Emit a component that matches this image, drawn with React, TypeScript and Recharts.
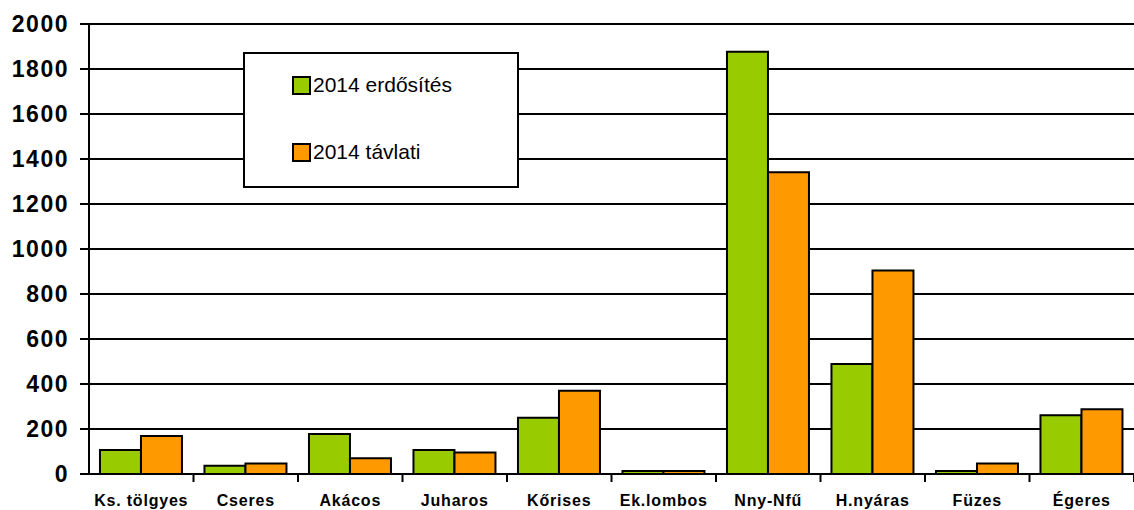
import { BarChart, Bar, XAxis, YAxis, CartesianGrid } from 'recharts'

const categories = ['Ks. tölgyes', 'Cseres', 'Akácos', 'Juharos', 'Kőrises', 'Ek.lombos', 'Nny-Nfű', 'H.nyáras', 'Füzes', 'Égeres']
const erdosites = [107, 37, 178, 107, 250, 13, 1877, 489, 13, 261]
const tavlati = [169, 47, 70, 96, 370, 13, 1341, 905, 47, 288]
const yTicks = [0, 200, 400, 600, 800, 1000, 1200, 1400, 1600, 1800, 2000]

const data = categories.map((name, i) => ({ name, erdosites: erdosites[i], tavlati: tavlati[i] }))

const FONT = '"Liberation Sans", Arial, sans-serif'
const GREEN = '#99CC00'
const ORANGE = '#FF9900'

function CategoryTick(props: any) {
  const { x, y, payload } = props
  const half = payload && payload.offset ? payload.offset : 52.25
  return (
    <g>
      <line x1={x + half} y1={y - 9} x2={x + half} y2={y} stroke="#000" strokeWidth={2} />
      <text x={x} y={y + 24} textAnchor="middle" fontFamily={FONT} fontWeight="bold" fontSize={16} letterSpacing={0.8} fill="#000">
        {payload.value}
      </text>
    </g>
  )
}

// legend box sits over the plot, like the original
function LegendBox() {
  const items = [
    { label: '2014 erdősítés', color: GREEN },
    { label: '2014 távlati', color: ORANGE },
  ]
  return (
    <div style={{ position: 'absolute', left: 243, top: 52, width: 272, height: 132, border: '2px solid #000', background: '#fff', fontFamily: FONT }}>
      {items.map((it, i) => (
        <div key={it.label} style={{ position: 'absolute', left: 47, top: 21 + i * 67, display: 'flex', alignItems: 'center' }}>
          <span style={{ width: 15, height: 15, border: '2px solid #000', background: it.color, display: 'inline-block' }} />
          <span style={{ fontSize: 21, color: '#000', marginLeft: 2, lineHeight: '20px' }}>{it.label}</span>
        </div>
      ))}
    </div>
  )
}

export default function App() {
  return (
    <div style={{ position: 'absolute', left: 0, top: 0, width: 1134, height: 510, background: '#fff' }}>
      <BarChart
        width={1134}
        height={510}
        data={data}
        margin={{ top: 24, right: 0, left: 0, bottom: 0 }}
        barCategoryGap="10.5%"
        barGap={0}
      >
        <CartesianGrid vertical={false} stroke="#000" strokeWidth={2} />
        <XAxis
          dataKey="name"
          height={36}
          axisLine={{ stroke: '#000', strokeWidth: 2 }}
          tickLine={false}
          tick={<CategoryTick />}
          interval={0}
        />
        <YAxis
          width={89}
          domain={[0, 2000]}
          ticks={yTicks}
          interval={0}
          axisLine={{ stroke: '#000', strokeWidth: 2 }}
          tickLine={{ stroke: '#000', strokeWidth: 2 }}
          tickSize={9}
          tickMargin={11}
          tick={{ fill: '#000', fontFamily: FONT, fontWeight: 'bold', fontSize: 23, letterSpacing: 1.5 }}
        />
        <Bar dataKey="erdosites" name="2014 erdősítés" fill={GREEN} stroke="#000" strokeWidth={2} isAnimationActive={false} />
        <Bar dataKey="tavlati" name="2014 távlati" fill={ORANGE} stroke="#000" strokeWidth={2} isAnimationActive={false} />
      </BarChart>
      <LegendBox />
    </div>
  )
}
